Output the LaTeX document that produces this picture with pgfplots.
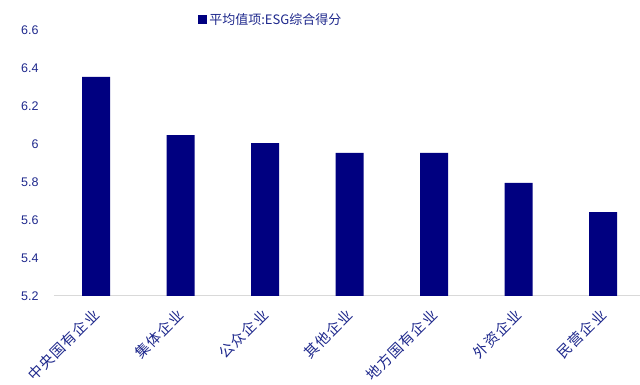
\documentclass[border=0pt]{standalone}
\usepackage{fontspec}
\setmainfont{Liberation Sans}
\newfontfamily\cjk{Noto Sans CJK SC}
\newfontfamily\cjkspaced[LetterSpace=9]{Noto Sans CJK SC}
\usepackage{pgfplots}
\pgfplotsset{compat=1.18}
\definecolor{barnavy}{RGB}{0,0,128}
\definecolor{txtnavy}{RGB}{30,40,140}
\definecolor{axgray}{RGB}{217,217,217}
\begin{document}
\begin{tikzpicture}
\useasboundingbox (-54pt,-89pt) rectangle (586pt,296pt);
\begin{axis}[
  scale only axis,
  width=586pt, height=266pt,
  ymin=5.2, ymax=6.6,
  ytick={5.2,5.4,5.6,5.8,6,6.2,6.4,6.6},
  yticklabels={5.2,5.4,5.6,5.8,6,6.2,6.4,6.6},
  xmin=-0.5, xmax=6.435,
  xtick={0,1,2,3,4,5,6},
  xticklabels={中央国有企业,集体企业,公众企业,其他企业,地方国有企业,外资企业,民营企业},
  x tick label style={font=\cjkspaced\fontsize{14.5}{14.5}\selectfont, text=txtnavy, yshift=-15pt, xshift=1pt, rotate=45, anchor=east, inner sep=1pt},
  y tick label style={font=\fontsize{12.5}{13}\selectfont, text=txtnavy},
  yticklabel style={xshift=-12pt},
  axis y line*=left,
  y axis line style={draw=none},
  axis x line*=bottom,
  x axis line style={draw=axgray, line width=1pt, -},
  major tick length=0pt,
  xtick style={draw=none},
  ytick style={draw=none},
  ybar, bar width=28pt,
  /pgf/number format/assume math mode=true,
  legend style={at={(0.37,1.0376)}, anchor=center, draw=none, fill=none,
    font=\cjk\fontsize{13}{13}\selectfont, text=txtnavy, inner sep=0pt},
  legend image code/.code={\fill[barnavy] (0pt,-4.5pt) rectangle (9pt,4.5pt);},
  clip=false,
]
\addplot[fill=barnavy, draw=none] coordinates {(0,6.353) (1,6.047) (2,6.005) (3,5.953) (4,5.953) (5,5.795) (6,5.642)};
\addlegendentry{平均值项:ESG综合得分}
\end{axis}
\end{tikzpicture}
\end{document}
